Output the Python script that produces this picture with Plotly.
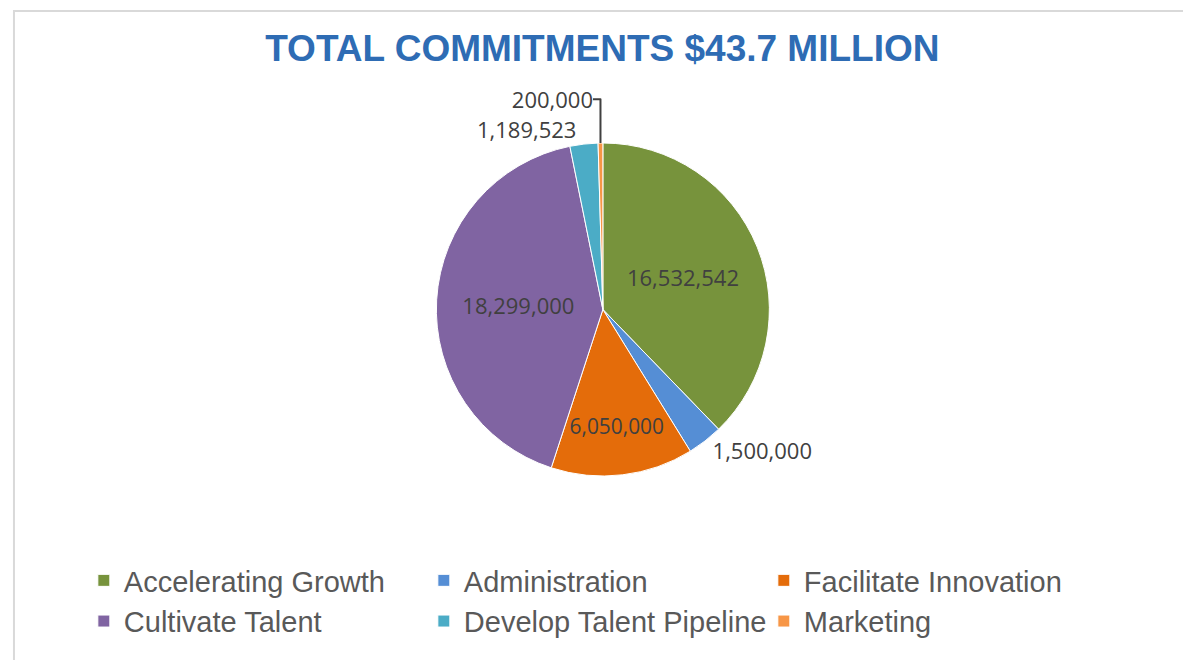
import plotly.graph_objects as go

categories = ["Accelerating Growth", "Administration", "Facilitate Innovation",
              "Cultivate Talent", "Develop Talent Pipeline", "Marketing"]
values = [16532542, 1500000, 6050000, 18299000, 1189523, 200000]
colors = ["#77933C", "#558ED5", "#E46C0A", "#8064A2", "#4BACC6", "#F79646"]
text_positions = ["inside", "outside", "inside", "inside", "outside", "outside"]
title_text = "TOTAL COMMITMENTS $43.7 MILLION"

W, H = 1191, 660

fig = go.Figure()
fig.add_trace(go.Pie(
    labels=categories,
    values=values,
    sort=False,
    direction="clockwise",
    rotation=0,
    marker=dict(colors=colors, line=dict(color="white", width=1)),
    texttemplate="%{value:,}",
    textinfo="value",
    textposition=text_positions,
    insidetextorientation="horizontal",
    textfont=dict(family="Open Sans", size=22, color="#404040"),
    outsidetextfont=dict(family="Open Sans", size=22, color="#404040"),
    insidetextfont=dict(family="Open Sans", size=22, color="#404040"),
    domain=dict(x=[0.2, 0.804], y=[1 - 468 / H, 1 - 135 / H]),
    hoverinfo="label+value+percent",
))

fig.update_layout(
    width=W, height=H,
    paper_bgcolor="white",
    plot_bgcolor="white",
    margin=dict(l=0, r=0, t=0, b=0),
    title=dict(text=title_text, x=0.499, xanchor="center", y=1 - 40 / H, yanchor="middle",
               font=dict(family="Liberation Sans, Arial", size=37, color="#2E6CB4", weight="bold")),
    showlegend=True,
    legend=dict(orientation="h", x=0.064, xanchor="left", y=1 - 547 / H, yanchor="top",
                entrywidth=295, entrywidthmode="pixels", traceorder="normal",
                font=dict(family="Liberation Sans, Arial", size=29, color="#595959"),
                bgcolor="rgba(0,0,0,0)"),
    shapes=[dict(type="rect", xref="paper", yref="paper",
                 x0=6 / W, x1=1.1, y0=-0.1, y1=1 - 3 / H,
                 line=dict(color="#D9D9D9", width=2), fillcolor="rgba(0,0,0,0)", layer="below")],
)

fig.write_html("out.html")
